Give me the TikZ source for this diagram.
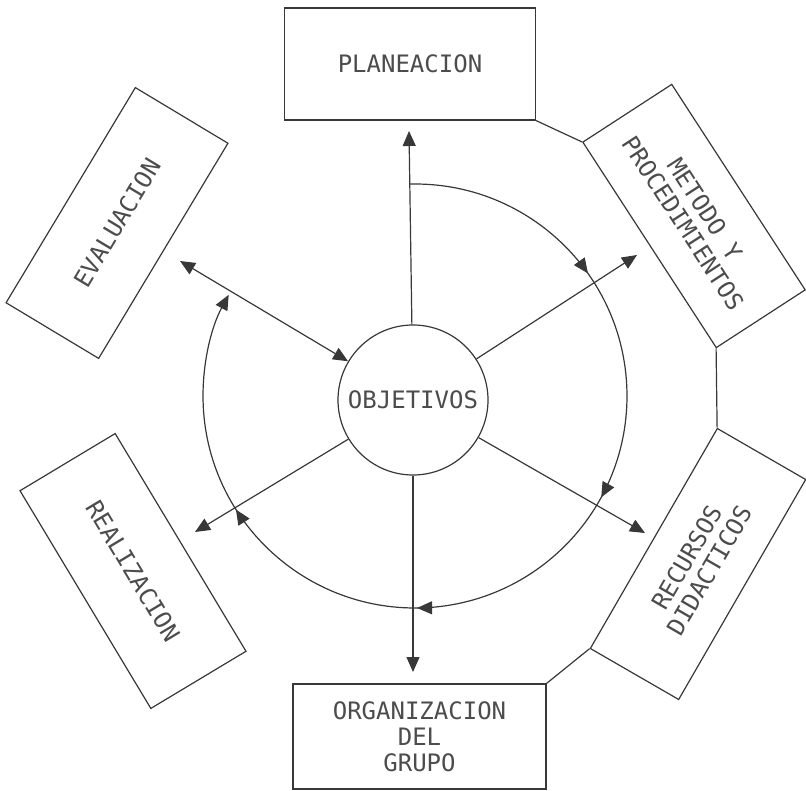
\documentclass[tikz,border=0pt]{standalone}
\usepackage{fontspec}
\newfontfamily\typefont{DejaVu Sans Mono}
\usetikzlibrary{arrows.meta,decorations.markings}

\begin{document}
\begin{tikzpicture}[x=1pt,y=1pt,
  ink/.style={draw=black!78, line width=1.2pt},
  headtip/.style={-{Triangle[length=15pt,width=13pt]}},
  lettering/.style={font=\typefont\fontsize{24}{26}\selectfont, text=black!70, align=center},
  stage/.style={ink, rectangle, inner sep=0pt, lettering},
]
\useasboundingbox (0,0) rectangle (806,-791);

% central objective
\node[ink, circle, minimum size=150pt, inner sep=0pt, lettering] (obj) at (413,-400) {OBJETIVOS};

% the six stages around it
\node[stage, minimum width=251pt, minimum height=112pt] (plan) at (410,-64) {PLANEACION};
\node[stage, rotate=-57, minimum width=245pt, minimum height=106pt] (metodo) at (694,-216) {METODO Y\\PROCEDIMIENTOS};
\node[stage, rotate=60, minimum width=254pt, minimum height=102pt] (recursos) at (698,-564) {RECURSOS\\DIDACTICOS};
\node[stage, minimum width=253pt, minimum height=105pt] (org) at (419.5,-736.5) {ORGANIZACION\\DEL\\GRUPO};
\node[stage, rotate=-59, minimum width=254pt, minimum height=111pt] (real) at (133,-571) {REALIZACION};
\node[stage, rotate=59, minimum width=251pt, minimum height=108pt] (eval) at (117,-223) {EVALUACION};

% outer ring joining the boxes
\draw[ink] (plan.south east) -- (metodo.south west);
\draw[ink] (metodo.south east) -- (recursos.north east);
\draw[ink] (recursos.north west) -- (org.north east);

% spokes
\coordinate (tN) at (409,-131);
\coordinate (tNE) at (637,-255);
\coordinate (tSE) at (645,-533);
\coordinate (tS) at (413,-672);
\coordinate (tSW) at (195,-532);
\coordinate (tNW) at (180,-261);
\draw[ink, headtip] (obj) -- (tN);
\draw[ink, headtip] (obj) -- (tNE);
\draw[ink, headtip] (obj) -- (tSE);
\draw[ink, headtip] (obj) -- (tS);
\draw[ink, headtip] (obj) -- (tSW);
\draw[ink, {Triangle[length=15pt,width=13pt]}-{Triangle[length=15pt,width=13pt]}] (tNW) -- (obj);

% clockwise cycle
\coordinate (hub) at (415,-396);
\coordinate (cyclestart) at ([shift={(91.4:212)}]hub);
\draw[ink, headtip,
  decoration={markings,
    mark=at position 0.187 with {\arrow{Triangle[length=15pt,width=13pt]}},
    mark=at position 0.400 with {\arrow{Triangle[length=15pt,width=13pt]}},
    mark=at position 0.603 with {\arrow{Triangle[length=15pt,width=13pt]}},
    mark=at position 0.797 with {\arrow{Triangle[length=15pt,width=13pt]}}},
  postaction={decorate}]
  (cyclestart) arc[start angle=91.4, end angle=-208.5, radius=212];
\end{tikzpicture}
\end{document}
